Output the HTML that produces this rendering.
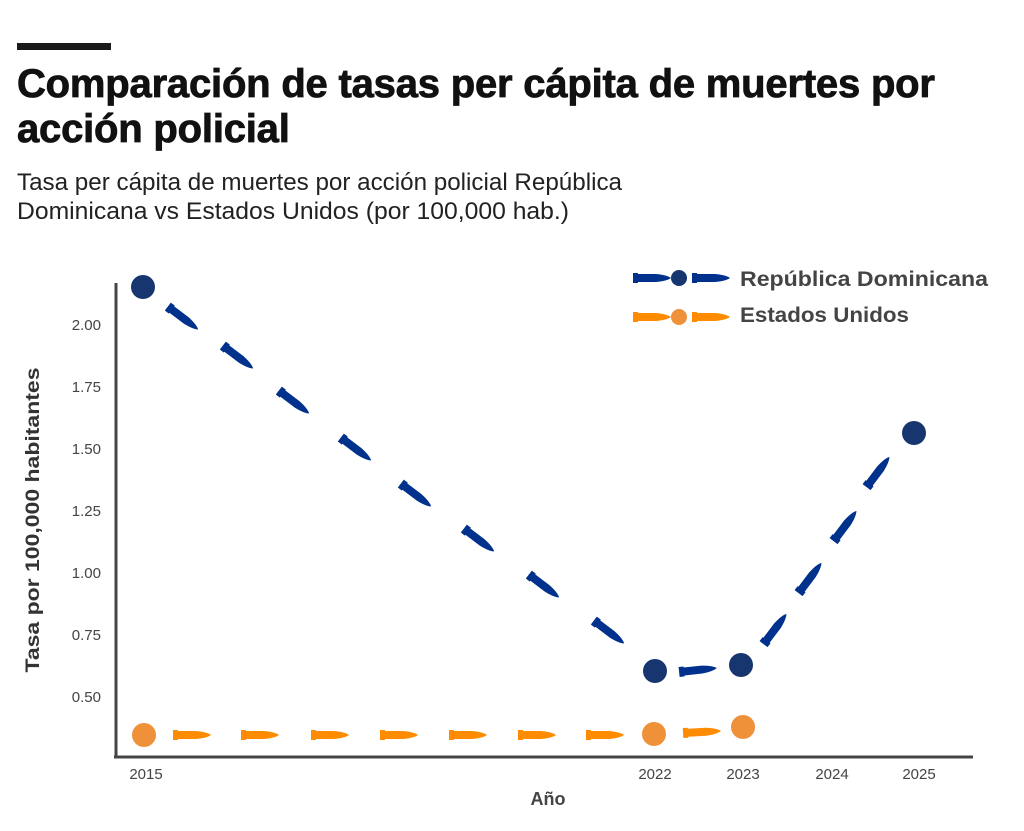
<!DOCTYPE html><html><head><style>body{margin:0;background:#fff;font-family:"Liberation Sans",sans-serif}</style></head><body>
<svg width="1024" height="826" xmlns="http://www.w3.org/2000/svg" font-family="Liberation Sans, sans-serif">
<defs>
<path id="b" d="M-19,-5 L-14,-5 L-14,-4 L4,-4 Q15,-3 19,0 Q15,3 4,4 L-14,4 L-14,5 L-19,5 Z"/>
</defs>
<rect x="17" y="43" width="94" height="7" fill="#1a1a1a"/>
<text x="17" y="97" font-size="40" font-weight="bold" fill="#111" letter-spacing="-0.2" stroke="#111" stroke-width="0.8">Comparación de tasas per cápita de muertes por</text>
<text x="17" y="142" font-size="40" font-weight="bold" fill="#111" letter-spacing="-0.2" stroke="#111" stroke-width="0.8">acción policial</text>
<text x="17" y="190" font-size="24" fill="#222" textLength="605" lengthAdjust="spacingAndGlyphs">Tasa per cápita de muertes por acción policial República</text>
<text x="17" y="219" font-size="24" fill="#222" textLength="552" lengthAdjust="spacingAndGlyphs">Dominicana vs Estados Unidos (por 100,000 hab.)</text>
<line x1="116" y1="283" x2="116" y2="758" stroke="#444" stroke-width="3"/>
<line x1="114" y1="757" x2="973" y2="757" stroke="#444" stroke-width="3"/>
<g font-size="15" fill="#444" text-anchor="end">
<text x="101" y="330">2.00</text><text x="101" y="392">1.75</text><text x="101" y="454">1.50</text><text x="101" y="516">1.25</text><text x="101" y="578">1.00</text><text x="101" y="640">0.75</text><text x="101" y="702">0.50</text>
</g>
<g font-size="15" fill="#444" text-anchor="middle">
<text x="146" y="779">2015</text><text x="655" y="779">2022</text><text x="743" y="779">2023</text><text x="832" y="779">2024</text><text x="919" y="779">2025</text>
</g>
<text x="548" y="805" font-size="18" font-weight="bold" fill="#444" text-anchor="middle">Año</text>
<text transform="translate(39,520) rotate(-90)" font-size="19" font-weight="bold" fill="#333" text-anchor="middle" textLength="305" lengthAdjust="spacingAndGlyphs">Tasa por 100,000 habitantes</text>
<g fill="#00318c">
<use href="#b" transform="translate(183,318) rotate(37)"/>
<use href="#b" transform="translate(238,357) rotate(37)"/>
<use href="#b" transform="translate(294,402) rotate(37)"/>
<use href="#b" transform="translate(356,449) rotate(37)"/>
<use href="#b" transform="translate(416,495) rotate(37)"/>
<use href="#b" transform="translate(479,540) rotate(37)"/>
<use href="#b" transform="translate(544,586) rotate(37)"/>
<use href="#b" transform="translate(609,632) rotate(37)"/>
<use href="#b" transform="translate(698,670) rotate(-6)"/>
<use href="#b" transform="translate(775,629) rotate(-53)"/>
<use href="#b" transform="translate(810,578) rotate(-53)"/>
<use href="#b" transform="translate(845,526) rotate(-53)"/>
<use href="#b" transform="translate(878,472) rotate(-53)"/>
<use href="#b" transform="translate(652,278)"/><use href="#b" transform="translate(711,278)"/>
</g>
<g fill="#17356e">
<circle cx="143" cy="287" r="12"/><circle cx="655" cy="671" r="12"/><circle cx="741" cy="665" r="12"/><circle cx="914" cy="433" r="12"/><circle cx="679" cy="278" r="8"/>
</g>
<g fill="#ff8c00">
<use href="#b" transform="translate(192,735)"/><use href="#b" transform="translate(260,735)"/><use href="#b" transform="translate(330,735)"/><use href="#b" transform="translate(399,735)"/><use href="#b" transform="translate(468,735)"/><use href="#b" transform="translate(537,735)"/><use href="#b" transform="translate(605,735)"/><use href="#b" transform="translate(702,732) rotate(-3)"/>
<use href="#b" transform="translate(652,317)"/><use href="#b" transform="translate(711,317)"/>
</g>
<g fill="#ee9139">
<circle cx="144" cy="735" r="12"/><circle cx="654" cy="734" r="12"/><circle cx="743" cy="727" r="12"/><circle cx="679" cy="317" r="8"/>
</g>
<text x="740" y="286" font-size="21" font-weight="bold" fill="#444" textLength="248" lengthAdjust="spacingAndGlyphs">República Dominicana</text>
<text x="740" y="322" font-size="21" font-weight="bold" fill="#444" textLength="169" lengthAdjust="spacingAndGlyphs">Estados Unidos</text>
</svg>
</body></html>
